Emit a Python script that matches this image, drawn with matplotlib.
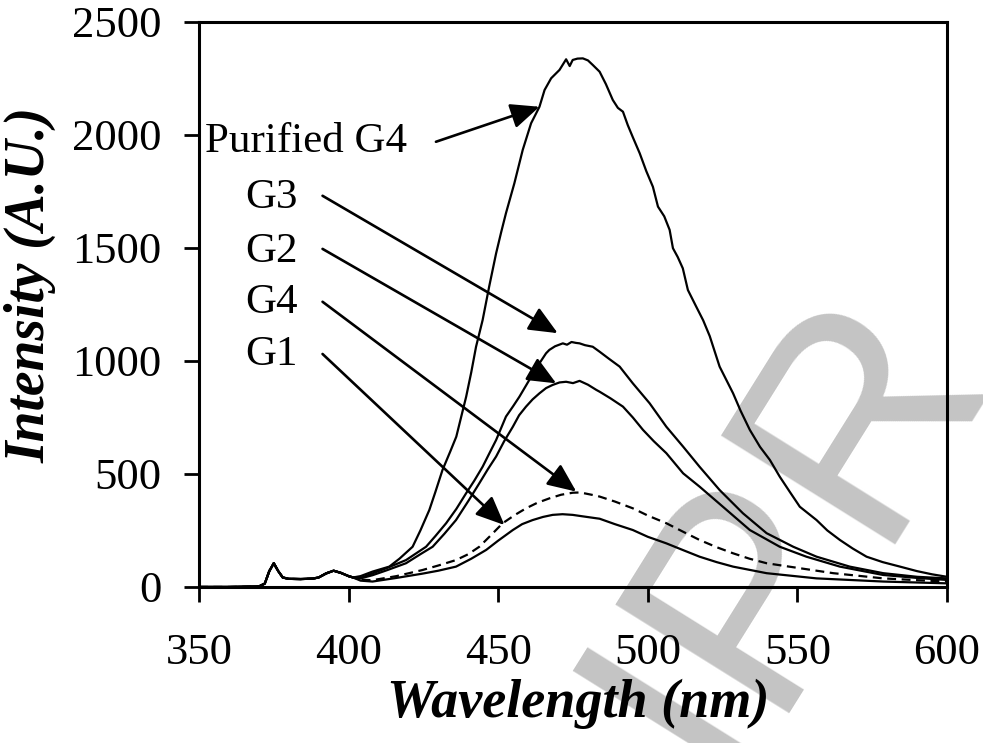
import numpy as np
import matplotlib
matplotlib.use('Agg')
import matplotlib.pyplot as plt

plt.rcParams['font.family'] = ['Liberation Serif', 'DejaVu Serif']

# scatter / Raman region shared by every spectrum (nm, A.U.)
wl_common = [350, 360, 370, 372, 373.5, 375, 376.5, 378, 380, 384, 388, 390,
             392.5, 395, 397.5, 400, 401.5]
int_common = [0, 0, 2, 15, 70, 105, 70, 42, 36, 35, 37, 42, 60, 72, 62, 48, 42]

# emission beyond 402 nm for each sample
wl_pg4 = [404, 408, 413.6, 417, 421.4, 424, 427, 429, 431.4, 434, 436, 439.3,
          441, 442.6, 444.8, 447, 449.3, 451, 452.6, 455.4, 458.2, 461, 463.8,
          465.5, 467.7, 470.5, 472, 472.7, 473.9, 474.9, 476.5, 478.3, 480,
          481.6, 483.9, 486, 488.3, 490, 491.7, 493.3, 495, 497.3, 499.5, 501.7,
          503.4, 505.5, 507.3, 508.4, 510, 511.7, 513.4, 516.2, 518.5, 520.7,
          524, 528.5, 531, 534.1, 537.5, 540.8, 544.1, 547.5, 550.8, 556.4, 560,
          564.2, 568.5, 573.1, 578.5, 584.3, 590, 595, 600]
int_pg4 = [48, 68, 90, 125, 178, 250, 341, 420, 518, 600, 665, 842, 950, 1063,
           1181, 1330, 1476, 1570, 1654, 1786, 1934, 2052, 2125, 2199, 2251,
           2288, 2320, 2335, 2305, 2332, 2338, 2339, 2330, 2310, 2280, 2225,
           2155, 2120, 2103, 2044, 1990, 1919, 1840, 1771, 1683, 1640, 1580,
           1499, 1460, 1410, 1314, 1240, 1180, 1110, 975, 857, 780, 695, 620,
           562, 488, 420, 355, 296, 250, 208, 170, 134, 110, 90, 70, 56, 45]

wl_g3 = [404, 408, 413, 419.2, 425.9, 429, 432.6, 436, 439.3, 442, 444.8, 447,
         449.3, 452.6, 455, 457.1, 460.4, 463.8, 466, 467.1, 469, 471.6, 473,
         474.5, 476, 477.2, 479, 481.6, 483.9, 487, 490.6, 495, 500.6, 506.2,
         511.8, 517.3, 524, 531.8, 539.7, 548.6, 556.4, 567.5, 578.7, 590, 600]
int_g3 = [40, 60, 85, 119, 178, 225, 282, 345, 415, 470, 532, 590, 650, 754,
          800, 842, 916, 990, 1034, 1049, 1065, 1078, 1072, 1084, 1080, 1078,
          1070, 1063, 1041, 1010, 975, 901, 813, 709, 621, 532, 429, 326, 238,
          178, 134, 90, 61, 45, 38]

wl_g2 = [404, 408, 413, 419.2, 424, 428.1, 432, 435.9, 440, 443.7, 446.5,
         449.3, 452, 454.9, 457, 459.3, 461.5, 463.8, 466, 468.2, 470.5, 472.7,
         475, 477.2, 480, 482.8, 483.9, 487.5, 491.7, 495, 498.4, 502, 506.2,
         511.8, 517.3, 525.1, 534.1, 544.1, 553, 564.2, 578.7, 590, 600]
int_g2 = [38, 52, 75, 105, 145, 178, 235, 296, 380, 459, 520, 577, 645, 709,
          760, 798, 830, 857, 880, 894, 905, 908, 902, 912, 895, 872, 864, 835,
          798, 750, 695, 645, 592, 503, 444, 355, 252, 178, 134, 90, 53, 40, 31]

wl_g4 = [404, 408, 416, 424.7, 430, 435.9, 440, 443.7, 447.5, 451.5, 455.5,
         459.3, 463, 467.1, 471, 474.9, 477, 479, 481.6, 483.9, 489, 495, 500,
         506.2, 512, 517.3, 523, 528.5, 534, 539.7, 550.8, 562, 578.7, 590, 600]
int_g4 = [32, 30, 48, 75, 95, 119, 145, 178, 228, 282, 318, 348, 372, 392, 408,
          417, 418, 414, 407, 400, 378, 348, 316, 282, 243, 208, 176, 149, 125,
          105, 83, 61, 38, 30, 24]

wl_g1 = [404, 408, 416, 424.7, 430, 435.9, 441, 446, 450, 454.9, 458, 461.5,
         465, 468.2, 471.5, 474.9, 478, 482.8, 483.9, 489, 495, 500, 506.2, 512,
         517.3, 523, 528.5, 539.7, 556.4, 578.7, 600]
int_g1 = [28, 24, 40, 59, 72, 90, 125, 164, 205, 252, 278, 296, 310, 319, 322,
          319, 313, 304, 302, 278, 252, 222, 193, 162, 134, 110, 90, 61, 38, 24,
          16]

# label text, text anchor (nm, A.U.), arrow tail and arrow head
labels = ['Purified G4', 'G3', 'G2', 'G4', 'G1']
label_xy = [(352, 1969), (365.5, 1722), (365.5, 1484), (365.5, 1257), (365.5, 1027)]
arrow_tail = [(429.2, 1970), (391.3, 1731), (391.3, 1496), (391.3, 1262), (391.3, 1031)]
arrow_head = [(463.8, 2125), (469.9, 1123), (469.4, 901), (476.1, 422), (452.1, 274)]

fig = plt.figure(figsize=(9.83, 7.43), dpi=100)
ax = fig.add_axes([0.2024, 0.2100, 0.7610, 0.7604])
ax.patch.set_alpha(0)

spectra = [(wl_pg4, int_pg4, '-'), (wl_g3, int_g3, '-'), (wl_g2, int_g2, '-'),
           (wl_g4, int_g4, (0, (4, 2.5))), (wl_g1, int_g1, '-')]
for wl, inten, ls in spectra:
    x = np.concatenate([wl_common, wl])
    y = np.concatenate([int_common, inten])
    ax.plot(x, y, color='black', lw=1.6, ls=ls)

for text, xy, tail, head in zip(labels, label_xy, arrow_tail, arrow_head):
    ax.text(xy[0], xy[1], text, fontsize=31, ha='left', va='center')
    ax.annotate('', xy=head, xytext=tail,
                arrowprops=dict(arrowstyle='-|>,head_length=0.8,head_width=0.35',
                                mutation_scale=22, lw=1.9, color='black',
                                shrinkA=0, shrinkB=0))

ax.set_xlim(350, 600)
ax.set_ylim(0, 2500)
ax.set_xticks([350, 400, 450, 500, 550, 600])
ax.set_yticks([0, 500, 1000, 1500, 2000, 2500])
ax.tick_params(axis='both', direction='out', length=11, width=2, labelsize=32)
ax.tick_params(axis='x', pad=22)
ax.tick_params(axis='y', pad=16)
for s in ax.spines.values():
    s.set_linewidth(2.2)

ax.set_xlabel('Wavelength (nm)', fontsize=39, fontweight='bold', style='italic')
ax.set_ylabel('Intensity (A.U.)', fontsize=40, fontweight='bold', style='italic')
ax.xaxis.set_label_coords(0.507, -0.163)
ax.yaxis.set_label_coords(-0.19, 0.535)

# faint stamp behind the plot
fig.text(0.80, 0.29, 'IPR', rotation=58, fontsize=215, color='#c4c4c4',
         family='Liberation Sans', ha='center', va='center', zorder=-1)

fig.savefig('out.png', dpi=100)
